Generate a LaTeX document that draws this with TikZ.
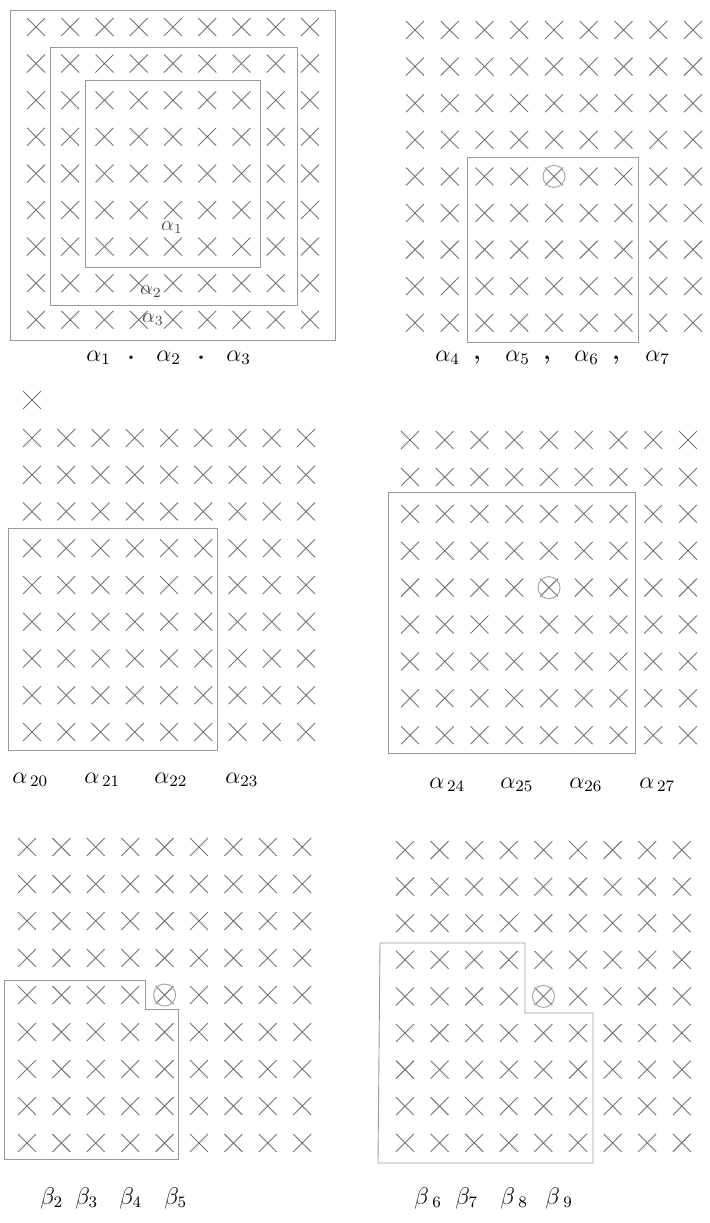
\documentclass[tikz,border=0pt]{standalone}
\usepackage{amsmath}
\usepackage{amssymb}
\usepackage{tikz}
\usetikzlibrary{shapes.misc}
\newcommand{\crossgrid}[5]{%
  \foreach \i in {1,...,9}
    \foreach \j in {1,...,9}
      \node[xmark] (#1-\i-\j) at ({#2+(\i-1)*#4},{#3+(\j-1)*#5}) {};
}

\begin{document}
\begin{tikzpicture}[x=0.5pt, y=-0.5pt,
    xmark/.style={cross out, draw=black!55, line width=0.45pt, minimum size=8.5pt, inner sep=0pt},
    ring/.style={circle, draw=black!35, line width=0.5pt, minimum size=11pt, inner sep=0pt},
    outline/.style={draw=black!40, line width=0.45pt},
    capt/.style={font=\large, inner sep=0pt, anchor=west},
    inlab/.style={font=\normalsize, inner sep=0pt, text=black!70}]
    \useasboundingbox (0,0) rectangle (709,1223);
    % alpha 1-3
    \crossgrid{a}{36}{27}{34.25}{36.6}
    \draw[outline] (10,10) rectangle (335,340);
    \draw[outline] (50,47) rectangle (297,305);
    \draw[outline] (85,80) rectangle (260,267);
    \node[inlab] (a1) at (172,228) {$\alpha_1$};
    \node[inlab] (a2) at (151,292) {$\alpha_2$};
    \node[inlab] (a3) at (153,320) {$\alpha_3$};
    \node[capt] (ca1) at (86,358) {$\alpha_1$};
    \node[capt] (ca2) at (156,358) {$\alpha_2$};
    \node[capt] (ca3) at (226,358) {$\alpha_3$};
    \node[capt] (sa1) at (127,358) {\textbf{.}};
    \node[capt] (sa2) at (197,358) {\textbf{.}};
    % alpha 4-7
    \crossgrid{b}{415}{30}{34.75}{36.6}
    \draw[outline] (467,157) rectangle (638,342);
    \node[ring] (hb) at (b-5-5) {};
    \node[capt] (cb4) at (435,358) {$\alpha_4$};
    \node[capt] (cb5) at (505,358) {$\alpha_5$};
    \node[capt] (cb6) at (574,358) {$\alpha_6$};
    \node[capt] (cb7) at (645,358) {$\alpha_7$};
    \node[capt] (sb1) at (473,360) {\textbf{,}};
    \node[capt] (sb2) at (543,360) {\textbf{,}};
    \node[capt] (sb3) at (612,360) {\textbf{,}};
    % alpha 20-23
    \node[xmark] (c0) at (32,400) {};
    \crossgrid{c}{32}{438}{34.25}{36.75}
    \draw[outline] (8,528) rectangle (217,750);
    \node[capt] (cc20) at (12,780) {$\alpha_{\,20}$};
    \node[capt] (cc21) at (84,780) {$\alpha_{\,21}$};
    \node[capt] (cc22) at (154,780) {$\alpha_{22}$};
    \node[capt] (cc23) at (225,780) {$\alpha_{23}$};
    % alpha 24-27
    \crossgrid{d}{410}{440}{34.75}{36.9}
    \draw[outline] (388,492) rectangle (635,753);
    \node[ring] (hd) at (d-5-5) {};
    \node[capt] (cd24) at (429,785) {$\alpha_{\,24}$};
    \node[capt] (cd25) at (500,785) {$\alpha_{25}$};
    \node[capt] (cd26) at (569,785) {$\alpha_{26}$};
    \node[capt] (cd27) at (639,785) {$\alpha_{\,27}$};
    % beta 2-5
    \crossgrid{e}{27}{847}{34.4}{37}
    \draw[outline] (4,980) -- (145,980) -- (145,1009) -- (178,1009)
        -- (178,1159) -- (4,1159) -- cycle;
    \node[ring] (he) at (e-5-5) {};
    \node[capt] (ce2) at (40,1198) {$\beta_2$};
    \node[capt] (ce3) at (75,1198) {$\beta_3$};
    \node[capt] (ce4) at (119,1198) {$\beta_4$};
    \node[capt] (ce5) at (164,1198) {$\beta_5$};
    % beta 6-9
    \crossgrid{f}{405}{850}{34.6}{36.6}
    \draw[outline] (380,943) -- (525,943) -- (525,1013) -- (593,1013)
        -- (593,1163) -- (378,1163) -- cycle;
    \node[ring] (hf) at (f-5-5) {};
    \node[capt] (cf6) at (414,1198) {$\beta_{\;6}$};
    \node[capt] (cf7) at (455,1198) {$\beta_7$};
    \node[capt] (cf8) at (500,1198) {$\beta_{\;8}$};
    \node[capt] (cf9) at (545,1198) {$\beta_{\;9}$};
\end{tikzpicture}
\end{document}
